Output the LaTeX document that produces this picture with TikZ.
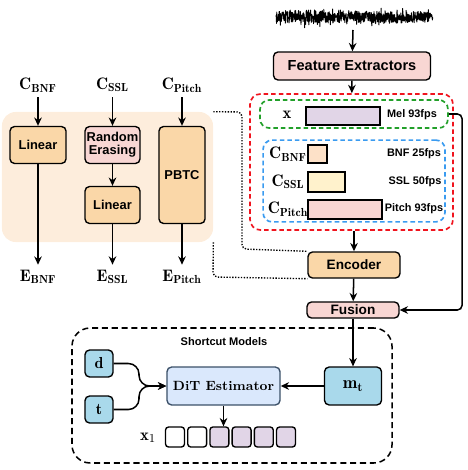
\documentclass[tikz,border=0pt]{standalone}
\usepackage{fontspec}
\setsansfont{Liberation Sans}
\usepackage{amsmath}
\usetikzlibrary{positioning, arrows.meta}
\definecolor{peach}{HTML}{FDEDDC}
\definecolor{orng}{HTML}{FAD7A8}
\definecolor{pnk}{HTML}{F8D6D3}
\definecolor{bnfc}{HTML}{FDE1C8}
\definecolor{sslc}{HTML}{FFF2CC}
\definecolor{melc}{HTML}{E1D5E7}
\definecolor{skyb}{HTML}{A9D9EB}
\definecolor{ditc}{HTML}{DAE8FC}
\definecolor{ditb}{HTML}{3B5068}
\definecolor{redd}{HTML}{F0141E}
\definecolor{grnd}{HTML}{22A02A}
\definecolor{blud}{HTML}{3A9BF0}

\tikzset{
  blk/.style={draw, line width=0.9pt, rounded corners=3pt, font=\sffamily\bfseries\fontsize{8.5}{9.5}\selectfont, align=center, inner sep=1pt},
  arr/.style={-{Stealth[length=5.5pt,width=5pt]}, line width=1pt},
  grp/.style={line width=1.1pt, dash pattern=on 3pt off 2pt, rounded corners=7pt},
  fps/.style={font=\sffamily\bfseries\fontsize{7.2}{8}\selectfont},
  bar/.style={draw, line width=0.8pt, inner sep=0pt},
  lbl/.style={font=\fontsize{11}{12}\selectfont}
}

\begin{document}
\begin{tikzpicture}[x=0.66pt, y=-0.66pt]
  \useasboundingbox (0,0) rectangle (467,470);

  % condition encoders
  \node[fill=peach, rounded corners=9pt, minimum width=139.3pt, minimum height=85.8pt] (panel) at (107.5,177) {};
  \node[lbl] (cbnf) at (38,85) {$\mathbf{C}_{\mathbf{BNF}}$};
  \node[lbl] (cssl) at (112.5,85) {$\mathbf{C}_{\mathbf{SSL}}$};
  \node[lbl] (cpit) at (182,85) {$\mathbf{C}_{\mathbf{Pitch}}$};
  \node[blk, fill=orng, minimum width=37pt, minimum height=24.4pt] (linb) at (38,145) {Linear};
  \node[blk, fill=pnk, minimum width=36.3pt, minimum height=24.4pt] (erase) at (112.5,145) {Random\\[-1pt]Erasing};
  \node[blk, fill=orng, minimum width=36.3pt, minimum height=24.4pt] (lins) at (112.5,205) {Linear};
  \node[blk, fill=orng, minimum width=30.4pt, minimum height=64pt] (pbtc) at (182,175) {PBTC};
  \node[lbl] (ebnf) at (38,277) {$\mathbf{E}_{\mathbf{BNF}}$};
  \node[lbl] (essl) at (112.5,277) {$\mathbf{E}_{\mathbf{SSL}}$};
  \node[lbl] (epit) at (182,277) {$\mathbf{E}_{\mathbf{Pitch}}$};
  \draw[arr] (cbnf) -- (linb);
  \draw[arr] (cssl) -- (erase);
  \draw[arr] (cpit) -- (pbtc);
  \draw[arr] (erase) -- (lins);
  \draw[arr] (linb) -- (ebnf);
  \draw[arr] (lins) -- (essl);
  \draw[arr] (pbtc) -- (epit);

  % waveform
  \pgfmathsetseed{11}
  \draw[line width=0.6pt, line join=round] (276,17) \foreach \i in {1,...,640}{ -- ({276+\i*0.245},{17+rand*(4+3*rnd+8*rnd*rnd*rnd)}) };
  \coordinate (wave) at (353,30);

  \node[blk, fill=pnk, font=\sffamily\bfseries\fontsize{9.6}{11}\selectfont, minimum width=103.6pt, minimum height=18.5pt] (feat) at (352,66) {Feature Extractors};

  % features
  \node[grp, draw=redd, minimum width=134pt, minimum height=89.8pt] (allf) at (351.5,162) {};
  \node[grp, draw=grnd, rounded corners=6pt, minimum width=124pt, minimum height=18.5pt] (melg) at (354,114) {};
  \node[grp, draw=blud, rounded corners=6pt, minimum width=120pt, minimum height=54pt] (cond) at (354,181) {};
  \node[lbl] (x) at (287,115) {$\mathbf{x}$};
  \node[bar, fill=melc, minimum width=48.8pt, minimum height=11.9pt] (mel) at (343,116) {};
  \node[fps] (melt) at (412,115) {Mel 93fps};
  \node[lbl] (cb) at (288,154) {$\mathbf{C}_{\mathbf{BNF}}$};
  \node[bar, fill=bnfc, minimum width=12.5pt, minimum height=11.9pt] (bnf) at (317.5,154) {};
  \node[fps] (bnft) at (414,154) {BNF 25fps};
  \node[lbl] (cs) at (288,182) {$\mathbf{C}_{\mathbf{SSL}}$};
  \node[bar, fill=sslc, minimum width=24.4pt, minimum height=13.2pt] (ssl) at (326.5,182) {};
  \node[fps] (sslt) at (415,182) {SSL 50fps};
  \node[lbl] (cp) at (288,209) {$\mathbf{C}_{\mathbf{Pitch}}$};
  \node[bar, fill=pnk, minimum width=48.8pt, minimum height=12.5pt] (pit) at (345,209.5) {};
  \node[fps] (pitt) at (414,209) {Pitch 93fps};

  \node[blk, fill=orng, font=\sffamily\bfseries\fontsize{9}{10}\selectfont, minimum width=60.7pt, minimum height=17.2pt] (enc) at (354,265) {Encoder};
  \node[blk, fill=pnk, font=\sffamily\bfseries\fontsize{9}{10}\selectfont, minimum width=60.7pt, minimum height=10.6pt, inner sep=0pt] (fus) at (353,310) {Fusion};

  \draw[arr] (wave) -- (feat);
  \draw[arr] (feat) -- (allf);
  \draw[arr] (allf.south -| enc) -- (enc);
  \draw[arr] (enc) -- (fus);
  \draw[arr, rounded corners=3pt] (melg.east) -- (462,114) -- (462,310) -- (fus.east);
  \draw[densely dotted, line width=0.9pt, rounded corners=3pt] (panel.north east) -- (242,112) -- (242,249) -- (enc.north west);
  \draw[densely dotted, line width=0.9pt, rounded corners=3pt] (panel.south east) -- (213,277) -- (enc.south west);

  % shortcut models
  \node[grp, draw=black, line width=1pt, dash pattern=on 4pt off 2.5pt, rounded corners=12pt, minimum width=211.2pt, minimum height=89.1pt] (sc) at (232,395.5) {};
  \node[font=\sffamily\bfseries\fontsize{7.3}{8}\selectfont] (sct) at (224,342) {Shortcut Models};
  \node[blk, fill=skyb, minimum width=37.6pt, minimum height=25pt, font=\fontsize{11.5}{12}\selectfont] (mt) at (353,386) {$\mathbf{m}_{\mathbf{t}}$};
  \node[blk, draw=ditb, fill=ditc, minimum width=74.6pt, minimum height=25pt, font=\bfseries\fontsize{8.8}{10}\selectfont] (dit) at (223.5,386) {DiT Estimator};
  \node[blk, fill=skyb, minimum width=18.5pt, minimum height=17.8pt, font=\fontsize{10.5}{12}\selectfont] (d) at (99,363.5) {$\mathbf{d}$};
  \node[blk, fill=skyb, minimum width=18.5pt, minimum height=17.8pt, font=\fontsize{10.5}{12}\selectfont] (t) at (99,409.5) {$\mathbf{t}$};
  \node[lbl] (x1) at (148,438) {$\mathbf{x}_1$};
  \foreach \i/\c in {0/white,1/white,2/melc,3/melc,4/melc,5/melc}
    \node[blk, fill=\c, rounded corners=2pt, minimum width=12.5pt, minimum height=13.2pt] (sq\i) at ({175+\i*22.2},437) {};

  \draw[arr] (fus) -- (mt);
  \draw[arr] (mt) -- (dit);
  \draw[arr, rounded corners=7pt] (d.east) -- (139,363.5) -- (139,386) -- (dit.west);
  \draw[arr, rounded corners=7pt] (t.east) -- (139,409.5) -- (139,386) -- (dit.west);
  \draw[arr] (dit.south) -- (dit.south |- sq2.north);
\end{tikzpicture}
\end{document}
